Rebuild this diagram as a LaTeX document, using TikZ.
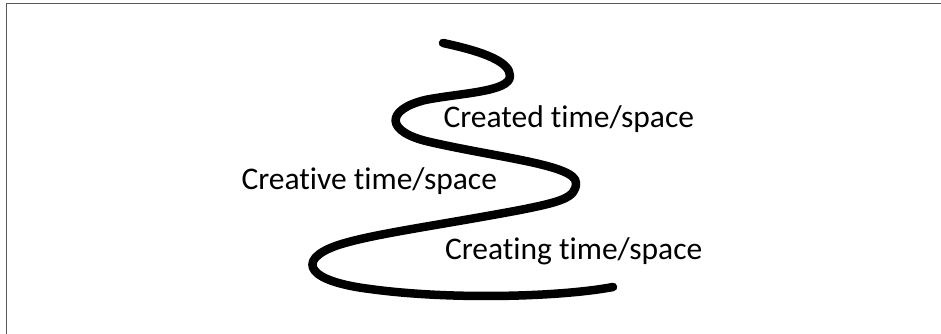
\documentclass[tikz,border=0pt]{standalone}
\usepackage{fontspec}
\setmainfont[Ligatures=NoCommon]{Carlito}
\begin{document}
\begin{tikzpicture}[x=1pt,y=-1pt]
\tikzset{
  lbl/.style={anchor=base west, inner sep=0pt, outer sep=0pt, font=\fontsize{31.5}{36}\selectfont},
  spiral/.style={line width=8.5pt, line cap=round, line join=round},
  frameline/.style={draw=black!65, line width=1.6pt}
}
\useasboundingbox (0,0) rectangle (941,334);
\draw[frameline] (6.5,334) -- (6.5,3.5) -- (941,3.5);
\draw[spiral] (443,43)
  .. controls (485,52) and (510,62) .. (510,76)
  .. controls (510,92) and (460,93) .. (425,100)
  .. controls (385,110) and (385,132) .. (430,142)
  .. controls (500,158) and (576,165) .. (576,183)
  .. controls (576,198) and (560,202) .. (520,210)
  .. controls (440,225) and (380,233) .. (345,243)
  .. controls (298,256) and (298,280) .. (370,289)
  .. controls (450,300) and (560,297) .. (613,287);
\node[lbl] (created) at (443.5,127) {Created time/space};
\node[lbl] (creative) at (241.5,189) {Creative time/space};
\node[lbl] (creating) at (445,259) {Creating time/space};
\end{tikzpicture}
\end{document}
